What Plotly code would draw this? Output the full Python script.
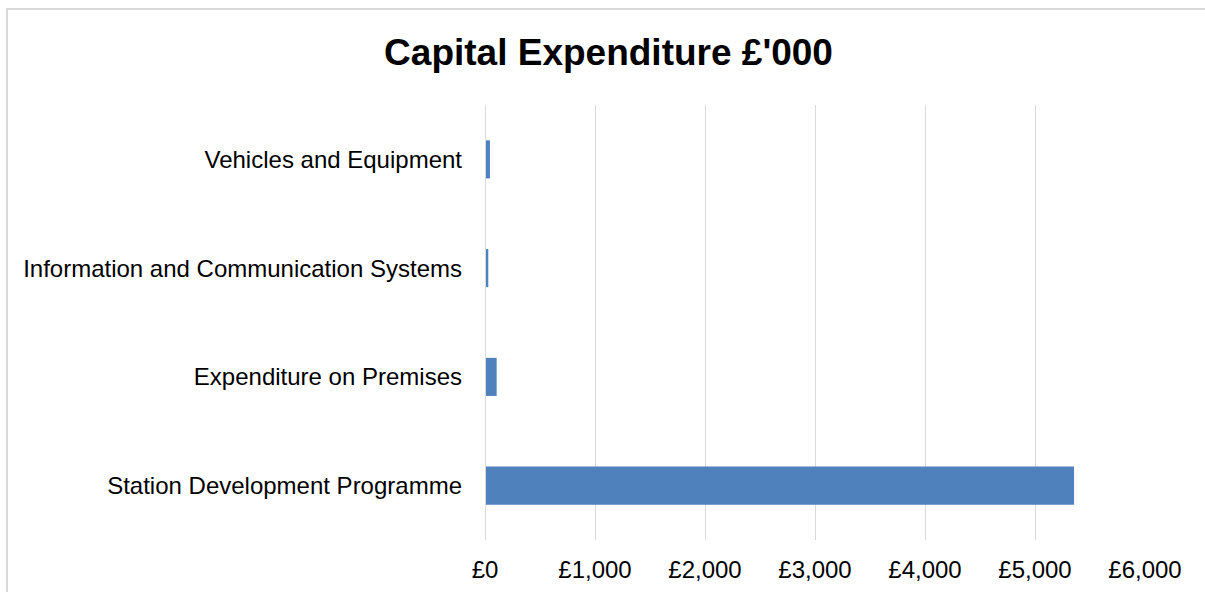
import plotly.graph_objects as go

categories = ["Station Development Programme", "Expenditure on Premises",
              "Information and Communication Systems", "Vehicles and Equipment"]
values = [5355, 106, 30, 45]
tick_vals = [0, 1000, 2000, 3000, 4000, 5000, 6000]
tick_text = ["£0", "£1,000", "£2,000", "£3,000", "£4,000", "£5,000", "£6,000"]

L, R, T, B = 485, 60, 105, 52
W, H = 1205, 592
pw = W - L - R
ph = H - T - B

def px_to_paper_x(px):
    return (px - L) / pw

def px_to_paper_y(py):
    return (H - B - py) / ph

fig = go.Figure(go.Bar(
    x=values, y=categories, orientation="h",
    marker=dict(color="#4f81bd", line=dict(width=0)),
    width=0.35,
))

fig.update_layout(
    width=W, height=H,
    margin=dict(l=L, r=R, t=T, b=B),
    paper_bgcolor="white", plot_bgcolor="white",
    font=dict(family="Liberation Sans, Arial, sans-serif", size=24, color="#000000"),
    title=dict(text="<b>Capital Expenditure £'000</b>", x=0.505, xanchor="center",
               y=1 - 52 / H, yanchor="middle",
               font=dict(size=37, color="#000000")),
    showlegend=False,
    xaxis=dict(range=[0, 6000], tickvals=tick_vals, ticktext=tick_text,
               showgrid=True, gridcolor="#d9d9d9", gridwidth=1, zeroline=False,
               showline=False, ticks="", ticklabelstandoff=13, automargin=False,
               tickfont=dict(size=24, color="#000000")),
    yaxis=dict(categoryorder="array", categoryarray=categories,
               showgrid=False, zeroline=False, showline=False, ticks="",
               ticklabelstandoff=22, automargin=False,
               tickfont=dict(size=24, color="#000000")),
    shapes=[
        dict(type="line", xref="x", yref="paper", x0=0, x1=0, y0=0, y1=1,
             line=dict(color="#d9d9d9", width=2)),
        dict(type="rect", xref="paper", yref="paper",
             x0=px_to_paper_x(7), x1=px_to_paper_x(1215),
             y0=px_to_paper_y(610), y1=px_to_paper_y(9),
             line=dict(color="#d9d9d9", width=2), fillcolor="rgba(0,0,0,0)", layer="below"),
    ],
)

fig.write_html("out.html")
